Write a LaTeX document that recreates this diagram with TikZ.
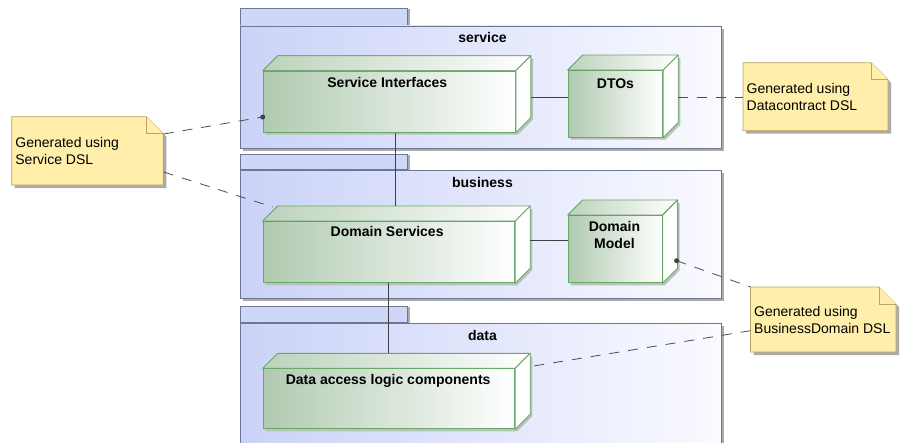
\documentclass[tikz,border=0pt]{standalone}
\usepackage{fontspec}
\setmainfont{Liberation Sans}
\usetikzlibrary{calc}
\definecolor{pkgL}{HTML}{CAD3F8}
\definecolor{pkgR}{HTML}{FAFAFF}
\definecolor{pkgB}{HTML}{6E7696}
\definecolor{nodeL}{HTML}{B0CAB0}
\definecolor{nodeB}{HTML}{68A868}
\definecolor{noteF}{HTML}{FFEFAA}
\definecolor{noteB}{HTML}{B8A468}
\definecolor{shad}{HTML}{ABABAB}
\definecolor{nshad}{HTML}{B8C4B8}
\tikzset{
  pkgbody/.style={draw=pkgB, line width=0.9pt, left color=pkgL, right color=pkgR, inner sep=0pt, anchor=north west},
  pkgtab/.style={draw=pkgB, line width=0.9pt, fill=pkgL!90!white, inner sep=0pt, anchor=south west},
  box3d/.style={draw=nodeB, line width=0.9pt, left color=nodeL, right color=white, inner sep=0pt, anchor=north west},
  boxtop/.style={draw=nodeB, line width=0.9pt, left color=nodeL!85!white, right color=white, line join=round},
  boxside/.style={draw=nodeB, line width=0.9pt, fill=white, line join=round},
  notepoly/.style={draw=noteB, line width=0.9pt, fill=noteF, line join=round},
  notearea/.style={inner sep=0pt, anchor=north west},
  notetext/.style={font=\fontsize{14}{17}\selectfont, align=left, anchor=west, inner sep=0pt},
  lbl/.style={font=\fontsize{14}{17}\selectfont\bfseries, anchor=base, inner sep=0pt},
  mlbl/.style={font=\fontsize{14}{17}\selectfont\bfseries, align=center, anchor=center, inner sep=0pt},
  conn/.style={draw=black!75, line width=0.8pt},
  noteline/.style={draw=black!70, line width=0.8pt, dash pattern=on 10pt off 9pt},
  dotmark/.style={circle, fill=black!75, inner sep=0pt, minimum size=5pt},
}
% package: name, x, ytop, tabw, tabh, w, h, label
\newcommand{\pkgdraw}[8]{%
  \coordinate (#1-o) at (#2,#3);
  \fill[shad] ($(#1-o)+(3,3)$) rectangle ++(#6,#7);
  \fill[shad] ($(#1-o)+(3,0)$) rectangle ++(#4,-#5);
  \node[pkgtab, minimum width=#4pt, minimum height=#5pt] (#1-tab) at (#1-o) {};
  \node[pkgbody, minimum width=#6pt, minimum height=#7pt] (#1) at (#1-o) {};
  \node[lbl] (#1-lbl) at ($(#1.north)+(1.5,17)$) {#8};
}
% 3d box: name, x, y, w, h, depth
\newcommand{\boxdraw}[6]{%
  \coordinate (#1-o) at (#2,#3);
  \fill[nshad] ($(#1-o)+(3,3)$) -- ++(#6,-#6) -- ++(#4,0) -- ++(0,#5) -- ++(-#6,#6) -- ++(-#4,0) -- cycle;
  \node[box3d, minimum width=#4pt, minimum height=#5pt] (#1) at (#1-o) {};
  \filldraw[boxtop] (#1.north west) -- ++(#6,-#6) -- ($(#1.north east)+(#6,-#6)$) -- (#1.north east) -- cycle;
  \filldraw[boxside] (#1.north east) -- ++(#6,-#6) -- ($(#1.south east)+(#6,-#6)$) -- (#1.south east) -- cycle;
}
% note: name, x, y, w, h, text
\newcommand{\notedraw}[6]{%
  \coordinate (#1-o) at (#2,#3);
  \fill[shad] ($(#1-o)+(3,3)$) -- ++({#4-17},0) -- ++(17,17) -- ++(0,{#5-17}) -- ++(-#4,0) -- cycle;
  \filldraw[notepoly] (#1-o) -- ++({#4-17},0) -- ++(17,17) -- ++(0,{#5-17}) -- ++(-#4,0) -- cycle;
  \draw[notepoly] ($(#1-o)+({#4-17},0)$) -- ++(0,17) -- ++(17,0);
  \node[notearea, minimum width=#4pt, minimum height=#5pt] (#1) at (#1-o) {};
  \node[notetext] (#1-t) at ($(#1.west)+(3.5,0)$) {#6};
}
\begin{document}
\begin{tikzpicture}[x=1pt,y=-1pt]
\useasboundingbox (0,0) rectangle (901,442);
\clip (0,0) rectangle (901,442);

% packages
\pkgdraw{svc}{240}{25.5}{167}{16.5}{481}{122}{service}
\pkgdraw{bus}{240}{170}{167}{15}{481}{128}{business}
\pkgdraw{dat}{240}{323.3}{167}{16}{481}{140}{data}

% nodes
\boxdraw{si}{262.7}{70.7}{252.3}{61}{15}
\node[lbl] (si-lbl) at ($(si.north)+(-2,16.5)$) {Service Interfaces};
\boxdraw{dto}{567.7}{70}{94.6}{66.7}{15}
\node[lbl] (dto-lbl) at ($(dto.north)+(0,18)$) {DTOs};
\boxdraw{ds}{262.7}{221}{251.6}{61.3}{15}
\node[lbl] (ds-lbl) at ($(ds.north)+(-1.8,15.7)$) {Domain Services};
\boxdraw{dm}{567.7}{215}{94}{67.3}{15}
\node[mlbl] (dm-lbl) at ($(dm.north)+(-0.7,20.1)$) {Domain\\Model};
\boxdraw{da}{262.7}{368.3}{251.6}{60}{15}
\node[lbl] (da-lbl) at ($(da.north)+(-0.8,15.7)$) {Data access logic components};

% notes
\notedraw{n1}{11.7}{116.7}{151.6}{68.3}{Generated using\\Service DSL}
\notedraw{n2}{743}{62.7}{145}{68}{Generated using\\Datacontract DSL}
\notedraw{n3}{750.5}{287}{145.5}{65}{Generated using\\BusinessDomain DSL}

% solid connectors
\draw[conn] ($(si.north east)+(15,26.3)$) -- ($(dto.north west)+(0,27)$);
\draw[conn] ($(ds.north east)+(15,19.7)$) -- ($(dm.north west)+(0,25.7)$);
\draw[conn] ($(si.south west)+(132.8,0)$) -- ($(ds.north west)+(132.8,-15)$);
\draw[conn] ($(ds.south west)+(125.6,0)$) -- ($(da.north west)+(125.6,-15)$);

% dots
\node[dotmark] (sidot) at ($(si.north west)+(0,46.3)$) {};
\node[dotmark] (dmdot) at ($(dm.north east)+(14,45.7)$) {};

% dashed note connectors
\draw[noteline] ($(n1.north east)+(0,17.3)$) -- (sidot.center);
\draw[noteline] ($(n1.north east)+(0,55.3)$) -- ($(ds.north west)+(10,-14)$);
\draw[noteline] ($(dto.north east)+(14.4,27)$) -- ($(n2.north west)+(0,34.3)$);
\draw[noteline] (dmdot.center) -- (n3.north west);
\draw[noteline] ($(n3.north west)+(0,43.7)$) -- ($(da.north east)+(14,-1.6)$);
\end{tikzpicture}
\end{document}
